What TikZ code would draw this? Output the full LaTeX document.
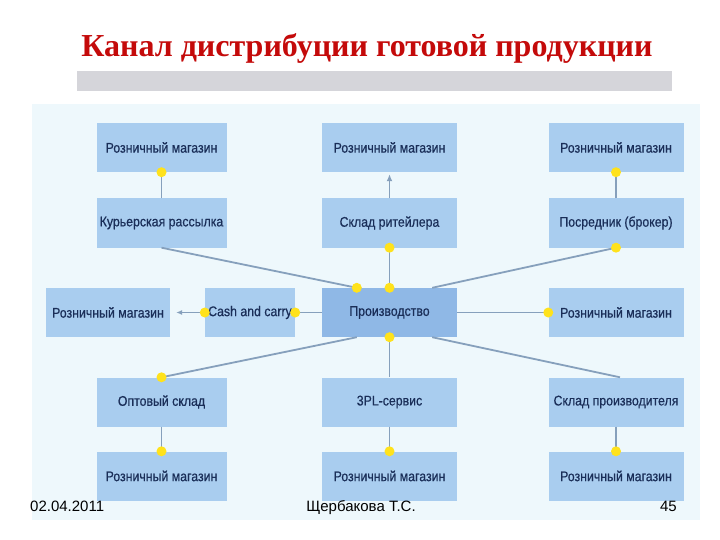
\documentclass[tikz,border=0pt]{standalone}
\usepackage{fontspec}
\setmainfont{Liberation Serif}
\setsansfont{Liberation Sans}
\newfontfamily\boxFont[FakeStretch=0.88, FakeBold=0.6]{Liberation Sans}
\definecolor{bgPhoto}{HTML}{EEF8FC}
\definecolor{boxBlue}{HTML}{A9CDEF}
\definecolor{boxCore}{HTML}{8FB8E6}
\definecolor{textNavy}{HTML}{1A2E58}
\definecolor{linkGray}{HTML}{86A0BC}
\definecolor{dotYellow}{HTML}{FFE21C}
\definecolor{titleRed}{HTML}{C40A0A}
\definecolor{barGray}{HTML}{D5D5DA}
\usepackage{tikz}
\usetikzlibrary{calc, positioning, arrows.meta}

\tikzset{
  chanBox/.style={fill=boxBlue, minimum width=130pt, minimum height=49pt,
                  inner sep=2pt, text=textNavy, font=\boxFont\fontsize{14}{16}\selectfont},
  wideBox/.style={chanBox, minimum width=135pt},
  joint/.style={circle, fill=dotYellow, inner sep=0pt, minimum size=10pt},
  link/.style={draw=linkGray, line width=1.8pt},
  footText/.style={font=\sffamily\fontsize{15}{17}\selectfont, text=black, inner sep=0pt}
}

\begin{document}
\begin{tikzpicture}[x=1pt, y=-1pt]
  \useasboundingbox (0,0) rectangle (720,540);
  \fill[white] (0,0) rectangle (720,540);

  % title and bar
  \node[font=\bfseries\fontsize{32}{36}\selectfont, text=titleRed, anchor=base] (title) at (367,57)
    {Канал дистрибуции готовой продукции};
  \fill[barGray] (77,71) rectangle (672,91);
  \fill[bgPhoto] (32,104) rectangle (700,520);

  % top row
  \node[chanBox] (retailTopL) at (161.5,147.5) {Розничный магазин};
  \node[wideBox] (retailTopC) at (389.5,147.5) {Розничный магазин};
  \node[wideBox] (retailTopR) at (616,147.5) {Розничный магазин};
  % second row
  \node[chanBox] (courier) at (161.5,223) {Курьерская рассылка};
  \node[wideBox] (retailerStore) at (389.5,223) {Склад ритейлера};
  \node[wideBox] (broker) at (616,223) {Посредник (брокер)};
  % middle row
  \node[chanBox, minimum width=124pt] (retailMidL) at (108,312.5) {Розничный магазин};
  \node[chanBox, minimum width=90pt] (cashCarry) at (250,312.5) {Cash and carry};
  \node[wideBox, fill=boxCore] (production) at (389.5,312.5) {Производство};
  \node[wideBox] (retailMidR) at (616,312.5) {Розничный магазин};
  % fourth row
  \node[chanBox] (wholesale) at (161.5,402) {Оптовый склад};
  \node[wideBox] (tplService) at (389.5,402) {3PL-сервис};
  \node[wideBox] (makerStore) at (616,402) {Склад производителя};
  % bottom row
  \node[chanBox] (retailBotL) at (161.5,476) {Розничный магазин};
  \node[wideBox] (retailBotC) at (389.5,476) {Розничный магазин};
  \node[wideBox] (retailBotR) at (616,476) {Розничный магазин};

  % joints
  \coordinate (jTopL) at (retailTopL.south);
  \coordinate (jTopR) at (retailTopR.south);
  \coordinate (jStore) at (retailerStore.south);
  \coordinate (jBroker) at (broker.south);
  \coordinate (jProdL) at ([xshift=35pt]production.north west);
  \coordinate (jProdC) at (production.north);
  \coordinate (prodNE) at ([xshift=-25pt]production.north east);
  \coordinate (jCashR) at (cashCarry.east);
  \coordinate (jCashL) at (cashCarry.west);
  \coordinate (jRetailR) at (retailMidR.west);
  \coordinate (jProdB) at (production.south);
  \coordinate (prodSW) at ([xshift=35pt]production.south west);
  \coordinate (prodSE) at ([xshift=-25pt]production.south east);
  \coordinate (jWhole) at (wholesale.north);
  \coordinate (jBotL) at (retailBotL.north);
  \coordinate (jBotC) at (retailBotC.north);
  \coordinate (jBotR) at (retailBotR.north);

  % connectors
  \draw[link] (courier.north) -- (jTopL);
  \draw[link] (broker.north) -- (jTopR);
  \draw[link, -{Latex[length=7pt, width=6pt]}, shorten >=2pt] (retailerStore.north) -- (retailTopC.south);
  \draw[link] (jProdC) -- (jStore);
  \draw[link] (courier.south) -- (jProdL);
  \draw[link] (prodNE) -- (jBroker);
  \draw[link] (production.west) -- (jCashR);
  \draw[link, -{Latex[length=6pt, width=5pt]}, shorten >=6pt] (jCashL) -- (retailMidL.east);
  \draw[link] (production.east) -- (jRetailR);
  \draw[link] (jProdB) -- (tplService.north);
  \draw[link] (prodSW) -- (jWhole);
  \draw[link] (prodSE) -- ([xshift=4pt]makerStore.north);
  \draw[link] (wholesale.south) -- (jBotL);
  \draw[link] (tplService.south) -- (jBotC);
  \draw[link] (makerStore.south) -- (jBotR);

  \foreach \j in {jTopL, jTopR, jStore, jBroker, jProdL, jProdC, jCashR, jCashL,
                  jRetailR, jProdB, jWhole, jBotL, jBotC, jBotR}
    \node[joint] at (\j) {};

  % footer
  \node[footText, anchor=base west] (footDate) at (30,511) {02.04.2011};
  \node[footText, anchor=base] (footAuthor) at (361,511) {Щербакова Т.С.};
  \node[footText, anchor=base east] (footPage) at (677,511) {45};
\end{tikzpicture}
\end{document}
